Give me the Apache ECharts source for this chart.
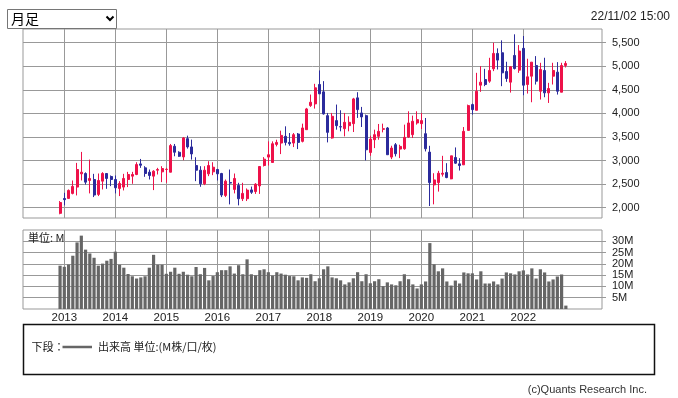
<!DOCTYPE html>
<html><head><meta charset="utf-8">
<script src="https://cdn.jsdelivr.net/npm/echarts@6/dist/echarts.min.js"></script>
<style>html,body{margin:0;padding:0;background:#fff}#c{width:678px;height:398px}</style>
</head><body><div id="c"></div>
<script>
const months = [
'2012/12',
'2013/01','2013/02','2013/03','2013/04','2013/05','2013/06','2013/07','2013/08','2013/09','2013/10','2013/11','2013/12',
'2014/01','2014/02','2014/03','2014/04','2014/05','2014/06','2014/07','2014/08','2014/09','2014/10','2014/11','2014/12',
'2015/01','2015/02','2015/03','2015/04','2015/05','2015/06','2015/07','2015/08','2015/09','2015/10','2015/11','2015/12',
'2016/01','2016/02','2016/03','2016/04','2016/05','2016/06','2016/07','2016/08','2016/09','2016/10','2016/11','2016/12',
'2017/01','2017/02','2017/03','2017/04','2017/05','2017/06','2017/07','2017/08','2017/09','2017/10','2017/11','2017/12',
'2018/01','2018/02','2018/03','2018/04','2018/05','2018/06','2018/07','2018/08','2018/09','2018/10','2018/11','2018/12',
'2019/01','2019/02','2019/03','2019/04','2019/05','2019/06','2019/07','2019/08','2019/09','2019/10','2019/11','2019/12',
'2020/01','2020/02','2020/03','2020/04','2020/05','2020/06','2020/07','2020/08','2020/09','2020/10','2020/11','2020/12',
'2021/01','2021/02','2021/03','2021/04','2021/05','2021/06','2021/07','2021/08','2021/09','2021/10','2021/11','2021/12',
'2022/01','2022/02','2022/03','2022/04','2022/05','2022/06','2022/07','2022/08','2022/09','2022/10','2022/11'
];
const opens = [
1880,
2195,2197,2303,2437,2718,2725,2577,2598,2282,2563,2725,2662,
2598,2408,2437,2598,2669,2704,2929,2845,2753,2669,2795,2760,
2810,2753,3303,3176,3077,3465,3289,2894,2795,2507,2718,2760,
2810,2725,2260,2535,2387,2472,2190,2190,2377,2342,2462,2895,
3073,2959,3343,3371,3513,3385,3371,3563,3407,3655,4166,4202,
4614,4457,3953,3478,3847,3719,3676,3740,3783,4330,4010,3953,
3172,3442,3513,3662,3691,3073,3336,3243,3250,3499,3549,3797,
3783,3570,3179,2483,2532,2710,2745,2611,3065,2930,2909,3640,
4187,4066,4599,4719,4684,4947,5273,5287,4890,4663,5230,4918,
5380,4613,4790,5017,4471,4911,4436,4790,4876,4450,5017
];
const closes = [
2110,
2170,2366,2451,2810,2753,2542,2620,2268,2577,2725,2620,2598,
2422,2514,2620,2704,2704,2915,2900,2725,2683,2774,2810,2831,
2815,3317,3176,3091,3479,3289,3140,2795,2507,2795,2894,2859,
2718,2268,2563,2521,2620,2190,2303,2373,2327,2498,2874,3030,
3123,3357,3385,3534,3385,3357,3549,3385,3691,4095,4237,4543,
4415,3989,3598,3939,3740,3712,3811,3811,4308,4081,3925,3229,
3456,3549,3620,3676,3123,3265,3144,3300,3492,3797,3833,3868,
3847,3250,2532,2589,2731,2731,2639,3100,2944,2894,3619,4166,
4080,4471,4663,4613,4911,5273,5131,4861,4741,4989,4953,5323,
4599,4776,5088,4684,4932,4436,4528,4911,4471,5017,5060
];
const lows = [
1860,
2050,2190,2282,2260,2577,2490,2303,2225,2246,2387,2400,2457,
2303,2246,2366,2437,2507,2690,2845,2655,2598,2373,2704,2542,
2528,2750,3091,3077,3007,3253,3020,2563,2443,2479,2669,2690,
2577,2225,2225,2070,2303,2049,2141,2141,2292,2292,2292,2874,
2895,2959,3300,3137,3321,3314,3286,3243,3385,3655,4138,4102,
4415,3975,3385,3464,3655,3620,3513,3620,3605,3904,3712,3002,
3101,3264,3442,3598,3123,3030,3087,3052,3229,3478,3478,3762,
3669,3193,2035,2071,2341,2660,2625,2603,2930,2788,2909,3640,
3974,4066,4457,4578,4649,4897,4932,4578,4670,4442,4932,4861,
4386,4421,4237,4613,4294,4343,4222,4613,4400,4450,4975
];
const highs = [
2140,
2315,2387,2577,2950,3183,2750,3020,2718,2725,2753,2725,2683,
2683,2563,2718,2760,2760,2964,3034,2880,2810,2795,2845,2880,
2845,3352,3352,3197,3500,3528,3444,3070,2880,2880,2986,2964,
2824,2739,2598,2810,2725,2528,2528,2408,2448,2519,2874,3073,
3407,3407,3442,3634,3726,3584,3584,3584,3783,4117,4400,4628,
4912,4685,4010,4010,4188,4067,4010,3939,4330,4450,4138,3975,
3527,3655,3776,3783,3712,3314,3371,3336,3762,4045,3953,4045,
4010,3903,3313,2731,2781,3100,2944,3100,3278,3050,3711,4187,
4208,4861,5003,4946,5180,5500,5380,5550,5096,5003,5678,5450,
5642,5160,5088,5216,5074,5181,4648,5074,5088,5074,5110
];
const volumes = [
19.2,
18.7,19.7,23.6,29.5,32.5,26.3,24.6,22.7,19.2,20.1,21.4,22.2,
25.4,19.6,18.3,15.5,14.5,13.5,14.0,14.5,18.3,24.0,19.6,19.6,
15.6,16.5,18.3,15.6,16.5,15.2,14.5,18.6,15.4,18.2,12.7,14.6,
16.3,17.2,17.2,18.9,15.7,19.4,15.4,22.0,15.4,14.9,17.2,17.6,
16.3,14.8,16.3,15.7,15.2,14.6,14.5,12.7,14.0,13.8,15.4,12.3,
13.6,17.6,18.9,14.0,13.6,12.7,10.9,11.8,13.6,16.3,12.3,15.4,
11.4,12.3,13.2,10.1,11.8,10.9,10.5,12.3,15.4,13.2,10.9,9.1,
10.9,12.2,29.2,19.8,16.7,18.0,12.2,10.4,12.6,11.3,16.2,15.8,
15.8,13.1,16.7,11.3,11.3,12.2,10.9,13.5,16.2,15.8,15.3,16.7,
17.1,15.3,18.0,13.5,17.6,16.2,12.2,13.1,14.4,15.3,1.5
];
const priceTicks = [2000,2500,3000,3500,4000,4500,5000,5500];
const volumeTicks = [5,10,15,20,25,30];
const yearTicks = [2013,2014,2015,2016,2017,2018,2019,2020,2021,2022];

const FONT = "'Liberation Sans', 'Noto Sans CJK JP', sans-serif";
const JP = "'Noto Sans CJK JP', sans-serif";
const GRID_COLOR = '#999999';
const UP = '#ee1149';
const DOWN = '#2b2b9c';

function toX(s){ const p = s.split('/').map(Number); return p[0] + (p[1]-1)/12; }

const candleData = months.map((m,i)=>[toX(m), opens[i], closes[i], lows[i], highs[i]]);
const volData = months.map((m,i)=>[toX(m), volumes[i]]);

const X_MIN = 2012.19, X_MAX = 2023.542;

const chart = echarts.init(document.getElementById('c'), null, {renderer:'canvas'});
chart.setOption({
  animation:false,
  backgroundColor:'#fff',
  textStyle:{fontFamily:FONT},
  grid:[
    {left:23, right:76, top:29, height:189, show:true, borderColor:GRID_COLOR, borderWidth:1},
    {left:23, right:76, top:230, height:79, show:true, borderColor:GRID_COLOR, borderWidth:1}
  ],
  xAxis:[
    {type:'value', gridIndex:0, min:X_MIN, max:X_MAX,
     axisLine:{show:false}, axisTick:{show:false, customValues:yearTicks},
     axisLabel:{show:false, customValues:yearTicks},
     splitLine:{show:true, lineStyle:{color:GRID_COLOR, width:1}}},
    {type:'value', gridIndex:1, min:X_MIN, max:X_MAX,
     axisLine:{show:false}, axisTick:{show:false, customValues:yearTicks},
     axisLabel:{show:true, customValues:yearTicks, color:'#222', fontSize:11.5, fontFamily:FONT, margin:3,
       formatter:v=>String(Math.round(v))},
     splitLine:{show:true, lineStyle:{color:GRID_COLOR, width:1}}}
  ],
  yAxis:[
    {type:'value', gridIndex:0, position:'right', min:1781, max:5791,
     axisLine:{show:false},
     axisTick:{show:true, length:4, customValues:priceTicks, lineStyle:{color:GRID_COLOR}},
     axisLabel:{customValues:priceTicks, color:'#222', fontSize:11, fontFamily:FONT, margin:10,
       formatter:v=>v.toLocaleString('en-US')},
     splitLine:{show:true, lineStyle:{color:GRID_COLOR, width:1}}},
    {type:'value', gridIndex:1, position:'right', min:0, max:35,
     axisLine:{show:false},
     axisTick:{show:true, length:4, customValues:volumeTicks, lineStyle:{color:GRID_COLOR}},
     axisLabel:{customValues:volumeTicks, color:'#222', fontSize:11, fontFamily:FONT, margin:10,
       formatter:v=>v+'M'},
     splitLine:{show:true, lineStyle:{color:GRID_COLOR, width:1}}}
  ],
  series:[
    {type:'candlestick', xAxisIndex:0, yAxisIndex:0, data:candleData,
     encode:{x:0, y:[1,2,3,4]}, barWidth:2.6,
     itemStyle:{color:UP, color0:DOWN, borderColor:UP, borderColor0:DOWN, borderWidth:1}},
    {type:'bar', xAxisIndex:1, yAxisIndex:1, data:volData, barWidth:3.2,
     itemStyle:{color:'#666'}}
  ],
  graphic:[
    {type:'rect', shape:{x:7.5, y:9.5, width:109, height:19}, style:{fill:'#fff', stroke:'#767676', lineWidth:1}},
    {type:'text', x:11, y:19, style:{text:'月足', font:'14px '+JP, fill:'#000', verticalAlign:'middle'}},
    {type:'polyline', shape:{points:[[106.5,16.5],[110,20],[113.5,16.5]]}, style:{stroke:'#000', lineWidth:2, fill:null}},
    {type:'text', x:670, y:17, style:{text:'22/11/02 15:00', font:'12px '+FONT, fill:'#222', align:'right', verticalAlign:'middle'}},
    {type:'text', x:28, y:238, z:10, style:{text:'単位: M', font:'11px '+JP, fill:'#222', verticalAlign:'middle'}},
    {type:'rect', shape:{x:23.5, y:324.5, width:631, height:50}, style:{fill:null, stroke:'#111', lineWidth:1.5}},
    {type:'text', x:31.5, y:347, style:{text:'下段：', font:'11px '+JP, fill:'#222', verticalAlign:'middle'}},
    {type:'line', shape:{x1:62.5, y1:347, x2:92, y2:347}, style:{stroke:'#666', lineWidth:2.5}},
    {type:'text', x:98, y:347, style:{text:'出来高 単位:(M株/口/枚)', font:'11px '+JP, fill:'#222', verticalAlign:'middle'}},
    {type:'text', x:647, y:390, style:{text:'(c)Quants Research Inc.', font:'11px '+FONT, fill:'#333', align:'right', verticalAlign:'middle'}}
  ]
});
</script></body></html>
